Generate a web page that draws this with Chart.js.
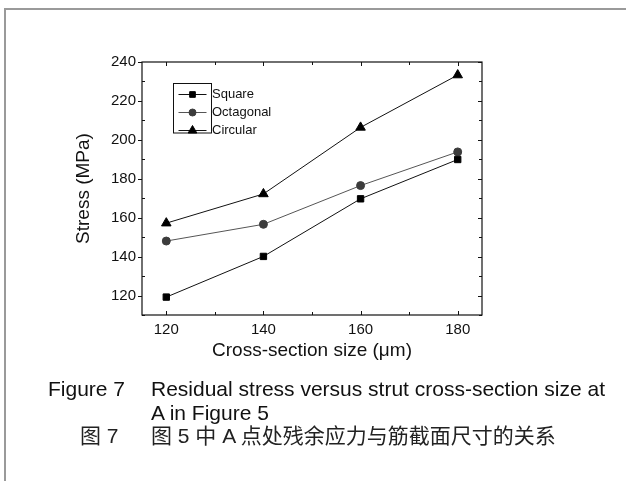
<!DOCTYPE html>
<html>
<head>
<meta charset="utf-8">
<script src="https://cdn.jsdelivr.net/npm/chart.js@4.4.0/dist/chart.umd.min.js"></script>
<style>
  html, body { margin: 0; padding: 0; background: #fff; }
  #wrap { position: relative; width: 626px; height: 481px; overflow: hidden; }
  #frame { position: absolute; left: 4px; top: 8px; width: 800px; height: 800px;
           border-left: 2px solid #9a9a9a; border-top: 2px solid #9a9a9a; }
  canvas { position: absolute; left: 0; top: 0; }
  .cap { position: absolute; white-space: nowrap; color: #111;
         font-family: "Liberation Sans", Arial, sans-serif; font-size: 21px; line-height: 21px; }
  .cjk { font-family: "Liberation Sans", "Noto Sans CJK SC", sans-serif; font-size: 21px; line-height: 21px; color: #222; }
</style>
</head>
<body>
<div id="wrap">
  <div id="frame"></div>
  <canvas id="c" width="626" height="481"></canvas>
  <div class="cap" style="left:48px; top:378px;">Figure 7</div>
  <div class="cap" style="left:151px; top:378px;">Residual stress versus strut cross-section size at</div>
  <div class="cap" style="left:151px; top:402px;">A in Figure 5</div>
  <div class="cap cjk" style="left:80px; top:425px;">图 7</div>
  <div class="cap cjk" style="left:151px; top:425px;">图 5 中 A 点处残余应力与筋截面尺寸的关系</div>
</div>
<script>
const sizes = [120, 140, 160, 180];
const squareVals = [119.2, 140.1, 169.7, 189.9];
const octagonalVals = [148.0, 156.6, 176.5, 193.8];
const circularVals = [157.2, 172.2, 206.4, 233.3];
const seriesNames = ['Square', 'Octagonal', 'Circular'];
const xTickVals = [120, 140, 160, 180];
const xMinorVals = [130, 150, 170];
const yTickVals = [120, 140, 160, 180, 200, 220, 240];
const yMinorVals = [110, 130, 150, 170, 190, 210, 230];

const FONT = '"Liberation Sans", Arial, sans-serif';

function pts(vals) { return sizes.map((x, i) => ({ x: x, y: vals[i] })); }

const frameTicks = {
  id: 'frameTicks',
  afterDraw(chart) {
    const { ctx, chartArea: a, scales: { x, y } } = chart;
    ctx.save();
    ctx.strokeStyle = '#111';
    ctx.lineWidth = 1.2;
    ctx.strokeRect(a.left, a.top, a.right - a.left, a.bottom - a.top);
    ctx.lineWidth = 1;
    ctx.beginPath();
    const majL = 4, minL = 3;
    xTickVals.concat(xMinorVals).forEach(v => {
      const px = Math.round(x.getPixelForValue(v)) + 0.5;
      const L = xTickVals.includes(v) ? majL : minL;
      ctx.moveTo(px, a.bottom); ctx.lineTo(px, a.bottom - L);
      ctx.moveTo(px, a.top); ctx.lineTo(px, a.top + L);
    });
    yTickVals.concat(yMinorVals).forEach(v => {
      const py = Math.round(y.getPixelForValue(v)) + 0.5;
      const L = yTickVals.includes(v) ? majL : minL;
      if (yTickVals.includes(v)) { ctx.moveTo(a.left - 4, py); ctx.lineTo(a.left, py); }
      else { ctx.moveTo(a.left, py); ctx.lineTo(a.left + L, py); }
      ctx.moveTo(a.right, py); ctx.lineTo(a.right - L, py);
    });
    ctx.stroke();

    // legend
    const bx = 173.5, by = 83.5, bw = 38, bh = 49.5;
    ctx.lineWidth = 1;
    ctx.strokeStyle = '#111';
    ctx.strokeRect(bx, by, bw, bh);
    const rows = [94, 112, 130];
    chart.data.datasets.forEach((ds, i) => {
      const yy = rows[i];
      ctx.strokeStyle = ds.borderColor;
      ctx.lineWidth = 1;
      ctx.beginPath();
      ctx.moveTo(178.5, yy + 0.5); ctx.lineTo(206.5, yy + 0.5);
      ctx.stroke();
      ctx.fillStyle = ds.pointBackgroundColor;
      ctx.strokeStyle = ds.pointBorderColor;
      Chart.helpers.drawPoint(ctx, {
        pointStyle: ds.pointStyle, radius: ds.pointRadius - 0.5, borderWidth: 1, rotation: 0
      }, 192.5, yy + 0.5);
      ctx.fillStyle = '#111';
      ctx.font = '13px ' + FONT;
      ctx.textBaseline = 'middle';
      ctx.textAlign = 'left';
      ctx.fillText(ds.label, 212, yy);
    });
    ctx.restore();
  }
};

const mk = (label, vals, color, lineColor, style, r) => ({
  label, data: pts(vals), borderColor: lineColor, borderWidth: 1,
  pointStyle: style, pointRadius: r, pointHoverRadius: r,
  pointBackgroundColor: color, pointBorderColor: color, pointBorderWidth: 1,
  showLine: true, tension: 0, fill: false
});

new Chart(document.getElementById('c'), {
  type: 'scatter',
  data: {
    datasets: [
      mk(seriesNames[0], squareVals, '#000', '#111', 'rect', 4.5),
      mk(seriesNames[1], octagonalVals, '#3c3c3c', '#555', 'circle', 4),
      mk(seriesNames[2], circularVals, '#000', '#111', 'triangle', 5.5)
    ]
  },
  options: {
    responsive: false,
    animation: false,
    events: [],
    layout: { padding: { left: 0, top: 62, right: 144, bottom: 106 } },
    plugins: { legend: { display: false }, tooltip: { enabled: false } },
    scales: {
      x: {
        type: 'linear', min: 115, max: 185,
        grid: { display: false, drawTicks: false }, border: { display: false },
        afterBuildTicks: s => { s.ticks = xTickVals.map(v => ({ value: v })); },
        afterFit: s => { s.height = 60; },
        ticks: { color: '#111', font: { family: FONT, size: 15 }, padding: 6, maxRotation: 0 },
        title: { display: true, text: 'Cross-section size (μm)', color: '#111',
                 font: { family: FONT, size: 19 }, padding: { top: 0, bottom: 13 } }
      },
      y: {
        type: 'linear', min: 110, max: 240,
        grid: { display: false, drawTicks: false }, border: { display: false },
        afterBuildTicks: s => { s.ticks = yTickVals.map(v => ({ value: v })); },
        afterFit: s => { s.width = 142; },
        ticks: { color: '#111', font: { family: FONT, size: 15 }, padding: 6 },
        title: { display: true, text: 'Stress (MPa)', color: '#111',
                 font: { family: FONT, size: 19 }, padding: { top: 72, bottom: 0 } }
      }
    }
  },
  plugins: [frameTicks]
});
</script>
</body>
</html>
